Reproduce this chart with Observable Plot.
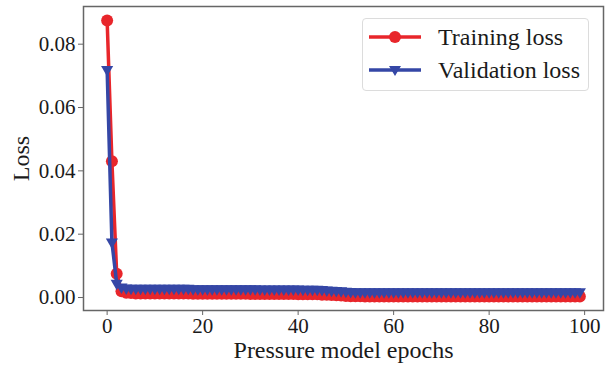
<!DOCTYPE html>
<html>
<head>
<meta charset="utf-8">
<script src="https://cdn.jsdelivr.net/npm/d3@7"></script>
<script src="https://cdn.jsdelivr.net/npm/@observablehq/plot@0.6"></script>
<style>
  html, body { margin: 0; padding: 0; background: #fff; }
  #wrap { position: relative; width: 605px; height: 368px; font-family: "Liberation Serif", "Times New Roman", serif; }
  #wrap svg [aria-label="x-axis label"], #wrap svg [aria-label="y-axis label"] { font-size: 24px; }
  #legend { position: absolute; left: 362px; top: 18px; width: 227px; height: 73px; box-sizing: border-box;
    border: 1px solid #dcdcdc; border-radius: 4px; background: rgba(255,255,255,0.85); }
  .row { position: absolute; left: 0; height: 30px; display: flex; align-items: center; }
  .row span { font-size: 24px; color: #1a1a1a; margin-left: 16px; }
  .row svg { margin-left: 5px; }
</style>
</head>
<body>
<div id="wrap">
  <div id="legend">
    <div class="row" style="top:3px"><svg width="54" height="16"><line x1="1" x2="53" y1="8" y2="8" stroke="#e8262b" stroke-width="3.5"/><circle cx="27" cy="8" r="6" fill="#e8262b"/></svg><span>Training loss</span></div>
    <div class="row" style="top:36px"><svg width="54" height="16"><line x1="1" x2="53" y1="8" y2="8" stroke="#3547a6" stroke-width="3.5"/><path d="M21,4 L33,4 L27,14 Z" fill="#3547a6"/></svg><span>Validation loss</span></div>
  </div>
</div>
<script>
const epochs = d3.range(100);
const trainingLoss = [
  0.0875,0.0430,0.0075,0.0020,0.0015,0.0014,0.0013,0.0013,0.0013,0.0013,
  0.0013,0.0013,0.0013,0.0013,0.0013,0.0013,0.0013,0.0013,0.0012,0.0012,
  0.0012,0.0012,0.0012,0.0012,0.0012,0.0012,0.0012,0.0012,0.0012,0.0012,
  0.0011,0.0011,0.0011,0.0011,0.0011,0.0011,0.0011,0.0011,0.0011,0.0011,
  0.0010,0.0010,0.0010,0.0010,0.0010,0.0009,0.0009,0.0008,0.0007,0.0006,
  0.0005,0.0004,0.0004,0.0004,0.0003,0.0003,0.0003,0.0003,0.0003,0.0003,
  0.0003,0.0003,0.0003,0.0003,0.0003,0.0003,0.0003,0.0003,0.0003,0.0003,
  0.0003,0.0003,0.0003,0.0003,0.0003,0.0003,0.0003,0.0003,0.0003,0.0003,
  0.0003,0.0003,0.0003,0.0003,0.0003,0.0003,0.0003,0.0003,0.0003,0.0003,
  0.0003,0.0003,0.0003,0.0003,0.0003,0.0003,0.0003,0.0003,0.0003,0.0003
];
const validationLoss = [
  0.0720,0.0175,0.0045,0.0033,0.0030,0.0029,0.0029,0.0029,0.0029,0.0029,
  0.0029,0.0029,0.0029,0.0029,0.0029,0.0029,0.0029,0.0029,0.0028,0.0028,
  0.0028,0.0028,0.0028,0.0028,0.0028,0.0028,0.0028,0.0028,0.0028,0.0028,
  0.0028,0.0028,0.0027,0.0027,0.0027,0.0027,0.0027,0.0027,0.0027,0.0027,
  0.0027,0.0026,0.0026,0.0026,0.0026,0.0025,0.0024,0.0023,0.0022,0.0021,
  0.0020,0.0019,0.0018,0.0018,0.0018,0.0018,0.0018,0.0018,0.0018,0.0018,
  0.0018,0.0018,0.0018,0.0018,0.0018,0.0018,0.0018,0.0018,0.0018,0.0018,
  0.0018,0.0018,0.0018,0.0018,0.0018,0.0018,0.0018,0.0018,0.0018,0.0018,
  0.0018,0.0018,0.0018,0.0018,0.0018,0.0018,0.0018,0.0018,0.0018,0.0018,
  0.0018,0.0018,0.0018,0.0018,0.0018,0.0018,0.0018,0.0018,0.0018,0.0018
];
const xTicks = [0, 20, 40, 60, 80, 100];
const yTicks = [0.00, 0.02, 0.04, 0.06, 0.08];
const seriesNames = ["Training loss", "Validation loss"];
const seriesColors = ["#e8262b", "#3547a6"];

const train = epochs.map((e, i) => ({epoch: e, loss: trainingLoss[i]}));
const valid = epochs.map((e, i) => ({epoch: e, loss: validationLoss[i]}));

const chart = Plot.plot({
  width: 605,
  height: 368,
  marginLeft: 83,
  marginRight: 2,
  marginTop: 6,
  marginBottom: 58,
  style: {fontFamily: "'Liberation Serif', 'Times New Roman', serif", fontSize: "21px", color: "#1a1a1a", background: "#fff"},
  x: {domain: [-4.95, 103.95]},
  y: {domain: [-0.0041, 0.0919]},
  marks: [
    Plot.frame({stroke: "#666", strokeWidth: 1.5}),
    Plot.axisX({ticks: xTicks, tickSize: 5, tickPadding: 3, tickFormat: d3.format("d"), stroke: "#666",
      label: "Pressure model epochs", labelAnchor: "center", labelArrow: false, labelOffset: 47}),
    Plot.axisY({ticks: yTicks, tickSize: 5, tickPadding: 3, tickFormat: d3.format(".2f"), stroke: "#666",
      label: "Loss", labelAnchor: "center", labelArrow: false, labelOffset: 72}),
    Plot.line(train, {x: "epoch", y: "loss", stroke: seriesColors[0], strokeWidth: 3.5}),
    Plot.dot(train, {x: "epoch", y: "loss", fill: seriesColors[0], r: 6, symbol: "circle"}),
    Plot.line(valid, {x: "epoch", y: "loss", stroke: seriesColors[1], strokeWidth: 3.5}),
    Plot.dot(valid, {x: "epoch", y: "loss", fill: seriesColors[1], r: 4.5, symbol: "triangle", rotate: 180})
  ]
});
document.getElementById("wrap").prepend(chart);
</script>
</body>
</html>
